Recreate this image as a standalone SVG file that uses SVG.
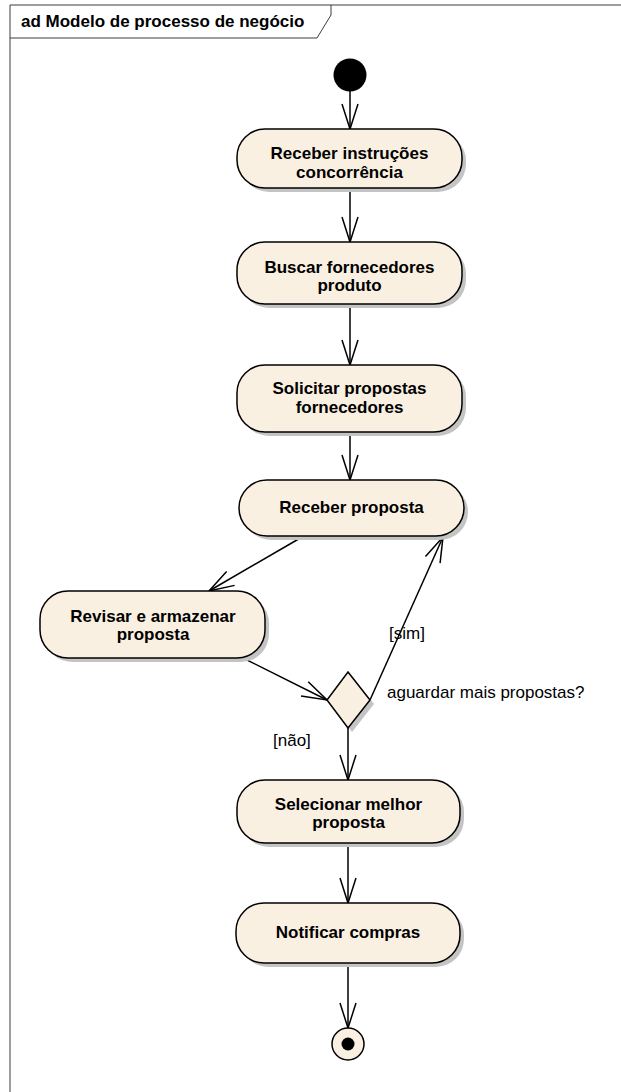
<svg xmlns="http://www.w3.org/2000/svg" width="621" height="1092" viewBox="0 0 621 1092">
  <style>
    .frame { fill: none; stroke: #3c3c3c; stroke-width: 1; }
    .act { fill: #FAF0E2; stroke: #000; stroke-width: 1.5; }
    .shadow { fill: #c4c4c4; stroke: none; }
    .lbl { font-family: "Liberation Sans", Arial, sans-serif; font-size: 17px; font-weight: bold; fill: #000; text-anchor: middle; }
    .guard { font-family: "Liberation Sans", Arial, sans-serif; font-size: 17px; fill: #000; }
    .edge { fill: none; stroke: #000; stroke-width: 1.5; marker-end: url(#open); }
  </style>
  <defs>
    <marker id="open" markerUnits="userSpaceOnUse" viewBox="-27 -10 29 20" refX="0" refY="0" markerWidth="29" markerHeight="20" orient="auto" overflow="visible">
      <path d="M -25 -8 L 0 0 L -25 8" fill="none" stroke="#000" stroke-width="1.5"/>
    </marker>
  </defs>

  <rect width="621" height="1092" fill="#fff"/>

  <!-- diagram frame with name tab -->
  <g id="frame">
    <path class="frame" d="M 10 1100 L 10 5 L 630 5"/>
    <path class="frame" d="M 10 38 L 317 38 L 331 15 L 331 5"/>
    <text x="21" y="27" font-family="Liberation Sans, Arial, sans-serif" font-size="17" font-weight="bold">ad Modelo de processo de negócio</text>
  </g>

  <!-- control flows -->
  <g id="connectors">
    <path class="edge" d="M 350 91 L 350 129"/>
    <path class="edge" d="M 350 188 L 350 242"/>
    <path class="edge" d="M 350 304 L 350 365"/>
    <path class="edge" d="M 350 432 L 350 480"/>
    <path class="edge" d="M 302 537 L 209 591"/>
    <path class="edge" d="M 243 658 L 327 700"/>
    <path class="edge" d="M 370 700 L 443 537"/>
    <path class="edge" d="M 348 728 L 348 780"/>
    <path class="edge" d="M 348 843 L 348 903"/>
    <path class="edge" d="M 348 963 L 348 1028"/>
    <text class="guard" x="389" y="639">[sim]</text>
    <text class="guard" x="273" y="746">[não]</text>
  </g>

  <g id="initial">
    <circle cx="350" cy="75" r="16.5" fill="#000"/>
  </g>

  <g id="receber-instrucoes">
    <rect class="shadow" x="241" y="133" width="225" height="59" rx="28"/>
    <rect class="act" x="237" y="129" width="225" height="59" rx="28"/>
    <text class="lbl" x="349.5" y="159">Receber instruções</text>
    <text class="lbl" x="349.5" y="178">concorrência</text>
  </g>

  <g id="buscar-fornecedores">
    <rect class="shadow" x="241" y="246" width="225" height="62" rx="28"/>
    <rect class="act" x="237" y="242" width="225" height="62" rx="28"/>
    <text class="lbl" x="349.5" y="273">Buscar fornecedores</text>
    <text class="lbl" x="349.5" y="291">produto</text>
  </g>

  <g id="solicitar-propostas">
    <rect class="shadow" x="241" y="369" width="225" height="67" rx="28"/>
    <rect class="act" x="237" y="365" width="225" height="67" rx="28"/>
    <text class="lbl" x="349.5" y="394">Solicitar propostas</text>
    <text class="lbl" x="349.5" y="413">fornecedores</text>
  </g>

  <g id="receber-proposta">
    <rect class="shadow" x="243" y="484" width="225" height="56" rx="28"/>
    <rect class="act" x="239" y="480" width="225" height="56" rx="28"/>
    <text class="lbl" x="351.5" y="513">Receber proposta</text>
  </g>

  <g id="revisar-armazenar">
    <rect class="shadow" x="44" y="595" width="225" height="67" rx="28"/>
    <rect class="act" x="40" y="591" width="225" height="67" rx="28"/>
    <text class="lbl" x="153" y="622">Revisar e armazenar</text>
    <text class="lbl" x="153" y="640">proposta</text>
  </g>

  <g id="decisao">
    <path class="shadow" d="M 352 676 L 374 704 L 352 732 L 331 704 Z"/>
    <path class="act" d="M 348 672 L 370 700 L 348 728 L 327 700 Z"/>
    <text class="guard" x="387" y="698">aguardar mais propostas?</text>
  </g>

  <g id="selecionar-melhor">
    <rect class="shadow" x="241" y="784" width="223" height="63" rx="28"/>
    <rect class="act" x="237" y="780" width="223" height="63" rx="28"/>
    <text class="lbl" x="348.5" y="810">Selecionar melhor</text>
    <text class="lbl" x="348.5" y="828">proposta</text>
  </g>

  <g id="notificar-compras">
    <rect class="shadow" x="240" y="907" width="224" height="60" rx="28"/>
    <rect class="act" x="236" y="903" width="224" height="60" rx="28"/>
    <text class="lbl" x="348" y="938">Notificar compras</text>
  </g>

  <g id="final">
    <circle cx="348" cy="1044" r="16" fill="#FAF0E2" stroke="#000" stroke-width="1.5"/>
    <circle cx="348" cy="1044" r="6.5" fill="#000"/>
  </g>
</svg>
